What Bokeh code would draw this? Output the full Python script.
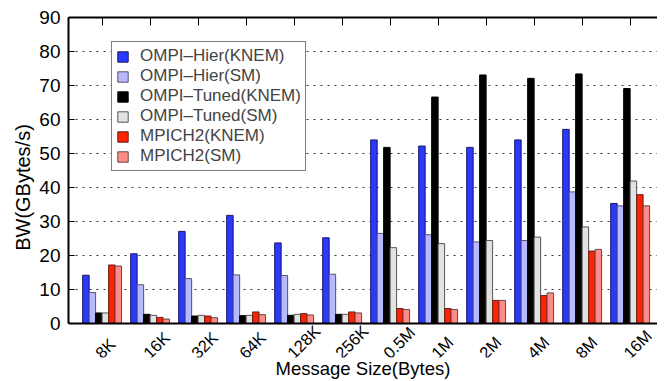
import math
from bokeh.plotting import figure
from bokeh.models import (ColumnDataSource, FixedTicker, LinearAxis, Range1d,
                          Legend, LegendItem, Span, Title)
from bokeh.core.properties import value
from bokeh.embed import file_html
from bokeh.resources import INLINE

categories = ["8K", "16K", "32K", "64K", "128K", "256K", "0.5M", "1M", "2M", "4M", "8M", "16M"]
series_names = ["OMPI\u2013Hier(KNEM)", "OMPI\u2013Hier(SM)", "OMPI\u2013Tuned(KNEM)",
                "OMPI\u2013Tuned(SM)", "MPICH2(KNEM)", "MPICH2(SM)"]
ompi_hier_knem = [14.2, 20.5, 27.1, 31.8, 23.7, 25.2, 54.0, 52.2, 51.8, 54.0, 57.1, 35.3]
ompi_hier_sm = [9.1, 11.4, 13.2, 14.3, 14.1, 14.5, 26.5, 26.1, 24.0, 24.4, 38.7, 34.6]
ompi_tuned_knem = [3.1, 2.7, 2.2, 2.3, 2.4, 2.7, 51.8, 66.6, 73.1, 72.1, 73.4, 69.1]
ompi_tuned_sm = [3.1, 2.4, 2.4, 2.4, 2.7, 2.7, 22.3, 23.5, 24.4, 25.4, 28.4, 41.9]
mpich2_knem = [17.2, 1.8, 2.2, 3.4, 2.9, 3.4, 4.4, 4.4, 6.8, 8.2, 21.3, 37.9]
mpich2_sm = [16.9, 1.3, 1.7, 2.6, 2.5, 3.1, 4.1, 4.1, 6.8, 9.0, 21.8, 34.6]
y_ticks = [0, 10, 20, 30, 40, 50, 60, 70, 80, 90]

series = [ompi_hier_knem, ompi_hier_sm, ompi_tuned_knem, ompi_tuned_sm, mpich2_knem, mpich2_sm]
fills = ["#2b38ff", "#b8b8ff", "#000000", "#e2e2e2", "#ff2200", "#ff8c86"]
edges = ["#1a1a60", "#555566", "#000000", "#555555", "#602020", "#604848"]

FONT = "Liberation Sans"

p = figure(width=657, height=381, output_backend="svg", toolbar_location=None,
           x_range=Range1d(-0.70, 11.57), y_range=Range1d(-10.0, 90),
           min_border_left=68, min_border_right=0, min_border_top=17, min_border_bottom=24)
p.outline_line_color = None

idx = list(range(len(categories)))
bw = 0.135
renderers = []
for k, vals in enumerate(series):
    xs = [i + (k - 2.5) * bw for i in idx]
    src = ColumnDataSource(dict(x=xs, top=vals))
    r = p.vbar(x="x", top="top", bottom=0, width=bw, source=src,
               fill_color=fills[k], line_color=edges[k], line_width=1)
    renderers.append(r)

# baseline (x axis line at y=0)
p.add_layout(Span(location=0, dimension="width", line_color="black", line_width=2))

# rotated category labels
lab_src = ColumnDataSource(dict(x=idx, y=[0] * len(idx), text=categories))
p.text(x="x", y="y", text="text", source=lab_src, angle=math.pi / 4,
       text_align="left", text_baseline="alphabetic", x_offset=-4, y_offset=32,
       text_font=value(FONT), text_font_size="16.5px", text_color="black")

# y axis
yax = p.yaxis[0]
yax.ticker = FixedTicker(ticks=y_ticks)
yax.bounds = (0, 90)
yax.axis_line_width = 2
yax.major_tick_in = 6
yax.major_tick_out = 0
yax.minor_tick_line_color = None
yax.major_label_text_font = FONT
yax.major_label_text_font_size = "19px"
yax.major_label_text_color = "black"
yax.major_label_standoff = 8

# y title, centred on the 0-90 part of the frame
p.add_layout(Title(text="BW(GBytes/s)", align="center", offset=17,
                   text_font=FONT, text_font_size="20px", text_font_style="normal",
                   text_color="black", standoff=6), "left")

# x axis (bottom): only the title
xax = p.xaxis[0]
xax.ticker = FixedTicker(ticks=[])
xax.axis_line_color = None
xax.major_tick_in = 0
xax.major_tick_out = 0
xax.minor_tick_line_color = None
xax.major_label_standoff = 0
xax.axis_label = "Message Size(Bytes)"
xax.axis_label_text_font = FONT
xax.axis_label_text_font_size = "18.5px"
xax.axis_label_text_font_style = "normal"
xax.axis_label_text_color = "black"
xax.axis_label_standoff = 0

# top axis with inward ticks, no labels
top_ax = LinearAxis(ticker=FixedTicker(ticks=idx), axis_line_width=2,
                    major_tick_in=8, major_tick_out=0, minor_tick_line_color=None,
                    major_label_overrides={i: "" for i in idx}, major_label_standoff=0)
p.add_layout(top_ax, "above")

# grid
p.xgrid.grid_line_color = None
p.ygrid.ticker = FixedTicker(ticks=y_ticks[1:-1])
p.ygrid.grid_line_color = "#333333"
p.ygrid.grid_line_dash = "2 5"
p.ygrid.grid_line_width = 1

legend = Legend(items=[LegendItem(label=series_names[k], renderers=[renderers[k]]) for k in range(6)],
                location=(43, 186))
legend.label_text_font = FONT
legend.label_text_font_size = "17px"
legend.label_height = 16
legend.glyph_height = 13
legend.glyph_width = 13
legend.label_standoff = 11
legend.spacing = 0
legend.padding = 4
legend.margin = 0
legend.border_line_color = "black"
legend.border_line_width = 1
legend.background_fill_color = "white"
legend.background_fill_alpha = 1.0
p.add_layout(legend)

open("out.html", "w").write(file_html(p, INLINE))
